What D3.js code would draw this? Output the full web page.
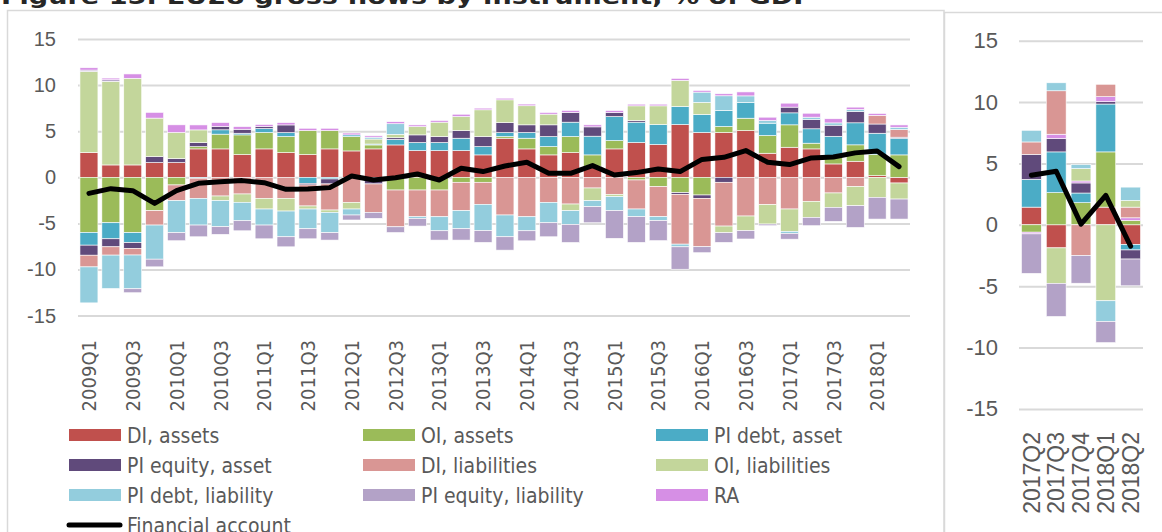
<!DOCTYPE html>
<html>
<head>
<meta charset="utf-8">
<script src="https://cdn.jsdelivr.net/npm/d3@7"></script>
<style>
  body { margin: 0; background: #fff; }
  svg { display: block; }
</style>
</head>
<body>
<div id="chart"></div>
<script>
// quarters shown in the main panel
var quarters = ["2009Q1","2009Q2","2009Q3","2009Q4","2010Q1","2010Q2","2010Q3","2010Q4",
  "2011Q1","2011Q2","2011Q3","2011Q4","2012Q1","2012Q2","2012Q3","2012Q4",
  "2013Q1","2013Q2","2013Q3","2013Q4","2014Q1","2014Q2","2014Q3","2014Q4",
  "2015Q1","2015Q2","2015Q3","2015Q4","2016Q1","2016Q2","2016Q3","2016Q4",
  "2017Q1","2017Q2","2017Q3","2017Q4","2018Q1","2018Q2"];
var quarterTicks = ["2009Q1","2009Q3","2010Q1","2010Q3","2011Q1","2011Q3","2012Q1","2012Q3",
  "2013Q1","2013Q3","2014Q1","2014Q3","2015Q1","2015Q3","2016Q1","2016Q3",
  "2017Q1","2017Q3","2018Q1"];

var diAssets    = [2.68,1.34,1.34,1.6,1.6,3.08,3.08,2.46,3.08,2.68,2.46,3.08,2.86,3.08,3.51,2.9,2.9,2.9,2.43,4.24,3.08,2.43,2.68,1.2,3.08,3.77,3.55,5.72,4.86,4.86,5.07,2.61,3.26,3.08,1.45,1.74,0.18,-0.62];
var oiAssets    = [-5.98,-4.93,-6.0,-3.62,-0.83,0.25,1.6,2.14,1.78,1.74,2.61,1.99,1.56,0.43,-1.38,-1.38,-1.38,-0.54,-0.54,0.18,1.16,0.9,1.74,1.23,0.9,-0.29,-1.01,-1.67,-1.92,0.65,1.34,1.92,2.43,0.62,0.9,1.78,2.3,2.43];
var piDebtAsset = [-1.38,-1.74,-1.09,0,0,-0.1,0.47,0.18,0.43,0.43,-0.65,-0.18,0.18,0.1,0.6,0.87,0.87,1.34,0.9,0.43,0.62,1.09,1.56,2.03,2.61,2.21,2.17,1.96,1.96,1.74,1.7,1.34,1.3,1.56,2.1,2.39,2.3,1.81];
var piEqAsset   = [-1.09,-0.87,-0.62,0.65,0.43,0.43,0.36,0.43,0.22,0.83,-0.18,-0.54,0,-0.72,0.18,0.83,0.65,0.83,1.09,1.09,0.83,1.27,1.05,1.01,0.43,0.18,0,-0.18,-0.36,-0.54,0,0,0.62,1.01,1.2,1.23,1.0,0.11];
var diLiab      = [-1.27,-0.9,-0.72,-1.56,-1.7,-2.18,-2.03,-1.81,-2.28,-2.28,-2.28,-2.83,-2.72,-3.08,-3.99,-2.9,-2.9,-3.08,-2.39,-4.09,-4.28,-2.72,-2.9,-1.16,-1.85,-3.15,-3.26,-5.4,-5.25,-4.75,-4.2,-2.97,-3.44,-2.61,-1.7,-1.01,0.94,0.83];
var oiLiab      = [8.8,9.06,9.4,4.17,2.83,1.38,-0.5,-0.9,-1.16,-1.38,-0.33,-0.25,-0.72,0.54,0.36,0.9,1.56,1.52,2.9,2.46,2.07,1.16,-0.72,-1.38,-0.25,1.59,2.03,2.83,1.3,-0.72,-1.59,-2.1,-2.43,-1.74,-1.56,-2.07,-2.17,-1.74];
var piDebtLiab  = [-3.9,-3.62,-3.66,-3.7,-3.48,-2.9,-2.83,-2.0,-1.74,-2.79,-2.14,-2.21,-0.65,0.2,1.16,-0.18,-1.52,-1.96,-2.86,-2.36,-1.52,-2.21,-1.49,-0.65,-1.52,-0.83,-0.43,-0.29,1.12,1.59,0.72,0.29,-0.22,0.25,0.25,0.22,0,0.25];
var piEqLiab    = [0.15,0.18,-0.43,-0.83,-0.87,-1.27,-0.83,-1.09,-1.49,-1.09,-1.09,-0.8,-0.54,-0.65,-0.62,-0.83,-1.01,-1.23,-1.27,-1.45,-1.09,-1.52,-1.96,-1.74,-3.0,-2.79,-2.17,-2.43,-0.65,-1.05,-0.9,-0.18,-0.62,-0.9,-1.52,-2.36,-2.36,-2.17];
var ra          = [0.25,0.18,0.47,0.62,0.83,0.54,0.43,0.29,0.22,0.25,0.25,0.25,0.2,0.15,0.22,0.18,0.18,0.25,0.18,0.18,0.18,0.18,0.22,0.22,0.22,0.18,0.18,0.22,0.18,0.22,0.43,0.36,0.43,0.43,0.45,0.25,0.2,0.25];
var finAccount  = [-1.74,-1.23,-1.45,-2.83,-1.45,-0.65,-0.47,-0.36,-0.58,-1.3,-1.27,-1.12,0.14,-0.29,-0.04,0.36,-0.29,0.98,0.62,1.23,1.63,0.43,0.43,1.27,0.25,0.51,0.91,0.62,1.94,2.17,2.9,1.63,1.38,2.1,2.2,2.65,2.85,1.16];

// zoomed panel on the right
var zoomQuarters  = ["2017Q2","2017Q3","2017Q4","2018Q1","2018Q2"];
var zDiAssets     = [1.44,-1.88,0,1.44,-1.61];
var zOiAssets     = [-0.6,2.62,1.8,4.5,0.35];
var zPiDebtAsset  = [2.26,3.32,0.79,3.9,-0.44];
var zPiEqAsset    = [2.04,1.09,0.82,0.19,-0.74];
var zDiLiab       = [1.01,3.54,-2.5,1.01,0.87];
var zOiLiab       = [0,-2.89,1.01,-6.19,0.54];
var zPiDebtLiab   = [0.95,0.65,0.33,-1.69,1.09];
var zPiEqLiab     = [-3.22,-2.7,-2.26,-1.72,-2.18];
var zRA           = [-0.14,0.35,0.16,0.41,0.22];
var zFinAccount   = [4.03,4.36,0.05,2.4,-1.74];

var seriesNames  = ["DI, assets","OI, assets","PI debt, asset","PI equity, asset","DI, liabilities",
  "OI, liabilities","PI debt, liability","PI equity, liability","RA"];
var seriesColors = ["#C0504D","#9BBB59","#4BACC6","#604A7B","#D99694","#C3D69B","#93CDDD","#B3A2C7","#D68FE5"];
var lineName = "Financial account";
var yTicks = [-15,-10,-5,0,5,10,15];

var W = 1162, H = 532;
var svg = d3.select("#chart").append("svg")
    .attr("width", W)
    .attr("height", H);

// title, mostly cut off at the top of the crop
svg.append("text")
    .attr("x", 1)
    .attr("y", 4)
    .attr("font-family", "DejaVu Sans, Verdana, sans-serif")
    .attr("font-weight", "bold")
    .attr("font-size", 22)
    .attr("fill", "#262626")
    .attr("textLength", 812)
    .attr("lengthAdjust", "spacingAndGlyphs")
    .text("Figure 15: EU28 gross flows by instrument, % of GDP");

// chart area frames
svg.append("rect")
    .attr("x", 7.5).attr("y", 10.5).attr("width", 936.5).attr("height", 560)
    .attr("fill", "none").attr("stroke", "#d9d9d9").attr("stroke-width", 1.5);
svg.append("rect")
    .attr("x", 944.5).attr("y", 12.5).attr("width", 260).attr("height", 560)
    .attr("fill", "none").attr("stroke", "#d9d9d9").attr("stroke-width", 1.5);

function drawPanel(cfg) {
  var rows = cfg.cats.map(function(c, i) {
    return { cat: c, v: cfg.series.map(function(s) { return s[i]; }) };
  });

  var x = d3.scaleBand()
      .domain(cfg.cats)
      .range([cfg.x0, cfg.x1])
      .paddingInner(cfg.pad)
      .paddingOuter(cfg.pad / 2);

  var y = d3.scaleLinear()
      .domain([-15, 15])
      .range([cfg.yBottom, cfg.yTop]);

  var g = svg.append("g");

  // y axis with gridlines
  var yAxis = g.append("g")
      .attr("transform", "translate(" + cfg.x0 + ",0)")
      .call(d3.axisLeft(y)
        .tickValues(yTicks)
        .tickSize(-(cfg.x1 - cfg.x0))
        .tickPadding(cfg.tickPad)
        .tickFormat(function(d) { return String(d); }));
  yAxis.select(".domain").remove();
  yAxis.selectAll(".tick line")
      .attr("stroke", "#d9d9d9")
      .attr("stroke-width", 2);
  yAxis.selectAll(".tick text")
      .attr("fill", "#595959")
      .attr("font-family", "Liberation Sans, Arial, sans-serif")
      .attr("font-size", cfg.yFont);

  // stacked bars, positives and negatives stacked separately
  var stack = d3.stack()
      .keys(cfg.order)
      .value(function(d, k) { return d.v[k]; })
      .offset(d3.stackOffsetDiverging);
  var layers = stack(rows);

  var layer = g.selectAll("g.layer")
    .data(layers)
    .enter().append("g")
      .attr("class", "layer")
      .attr("fill", function(d) { return seriesColors[d.key]; });

  layer.selectAll("rect")
    .data(function(d) { return d; })
    .enter().append("rect")
      .attr("x", function(d) { return x(d.data.cat); })
      .attr("width", x.bandwidth())
      .attr("y", function(d) { return y(Math.max(d[0], d[1])); })
      .attr("height", function(d) { return Math.abs(y(d[0]) - y(d[1])); })
      .attr("stroke", "#fff")
      .attr("stroke-width", 0.6);

  // financial account line
  var line = d3.line()
      .x(function(d) { return x(d.cat) + x.bandwidth() / 2; })
      .y(function(d) { return y(d.val); });
  g.append("path")
      .datum(cfg.cats.map(function(c, i) { return { cat: c, val: cfg.line[i] }; }))
      .attr("fill", "none")
      .attr("stroke", "#000")
      .attr("stroke-width", 5)
      .attr("stroke-linejoin", "round")
      .attr("stroke-linecap", "round")
      .attr("d", line);

  // rotated category labels
  g.selectAll("text.xlab")
    .data(cfg.ticks)
    .enter().append("text")
      .attr("class", "xlab")
      .attr("transform", function(d) {
        return "translate(" + (x(d) + x.bandwidth() / 2) + "," + cfg.labelTop + ") rotate(-90)";
      })
      .attr("text-anchor", "end")
      .attr("dy", "0.36em")
      .attr("fill", "#595959")
      .attr("font-family", cfg.xFamily)
      .attr("font-size", cfg.xFont)
      .text(function(d) { return d; });
}

drawPanel({
  cats: quarters, ticks: quarterTicks,
  series: [diAssets, oiAssets, piDebtAsset, piEqAsset, diLiab, oiLiab, piDebtLiab, piEqLiab, ra],
  order: [0,1,2,3,4,5,6,7,8],
  line: finAccount,
  x0: 78, x1: 910, pad: 0.18,
  yTop: 39, yBottom: 315.6,
  tickPad: 22, yFont: 20,
  labelTop: 340, xFont: 20, xFamily: "DejaVu Sans Condensed, DejaVu Sans, sans-serif"
});

// the zoomed panel stacks RA right after the asset series
drawPanel({
  cats: zoomQuarters, ticks: zoomQuarters,
  series: [zDiAssets, zOiAssets, zPiDebtAsset, zPiEqAsset, zDiLiab, zOiLiab, zPiDebtLiab, zPiEqLiab, zRA],
  order: [0,1,2,3,8,4,5,6,7],
  line: zFinAccount,
  x0: 1019, x1: 1143, pad: 0.2,
  yTop: 40.7, yBottom: 408.9,
  tickPad: 21, yFont: 22,
  labelTop: 432, xFont: 23, xFamily: "Liberation Sans, Arial, sans-serif"
});

// legend
var legendCols = [69, 363, 656];
var legendRows = [435, 465, 495, 525];
var legendItems = seriesNames.map(function(n, i) { return { name: n, color: seriesColors[i], type: "bar" }; });
legendItems.push({ name: lineName, color: "#000", type: "line" });

var leg = svg.append("g").selectAll("g")
  .data(legendItems)
  .enter().append("g")
    .attr("transform", function(d, i) {
      return "translate(" + legendCols[i % 3] + "," + legendRows[Math.floor(i / 3)] + ")";
    });

leg.filter(function(d) { return d.type === "bar"; })
  .append("rect")
    .attr("x", 0).attr("y", -6)
    .attr("width", 52).attr("height", 12)
    .attr("fill", function(d) { return d.color; });

leg.filter(function(d) { return d.type === "line"; })
  .append("line")
    .attr("x1", 0).attr("x2", 51)
    .attr("stroke", "#000")
    .attr("stroke-width", 5)
    .attr("stroke-linecap", "round");

leg.append("text")
    .attr("x", 58)
    .attr("dy", "0.36em")
    .attr("fill", "#595959")
    .attr("font-family", "DejaVu Sans Condensed, DejaVu Sans, sans-serif")
    .attr("font-size", 21)
    .text(function(d) { return d.name; });
</script>
</body>
</html>
